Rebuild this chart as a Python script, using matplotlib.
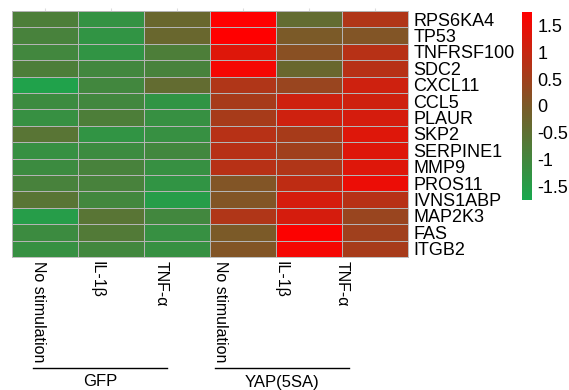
import numpy as np
import matplotlib
matplotlib.use("Agg")
import matplotlib.pyplot as plt
from matplotlib.colors import LinearSegmentedColormap

plt.rcParams['font.family'] = ['Liberation Sans', 'DejaVu Sans']

genes = ["RPS6KA4", "TP53", "TNFRSF100", "SDC2", "CXCL11", "CCL5", "PLAUR",
         "SKP2", "SERPINE1", "MMP9", "PROS11", "IVNS1ABP", "MAP2K3", "FAS", "ITGB2"]
conditions = ["No stimulation", "IL-1\u03b2", "TNF-\u03b1",
              "No stimulation", "IL-1\u03b2", "TNF-\u03b1"]
groups = ["GFP", "YAP(5SA)"]

# z-scores, one list per condition column (rows in gene order)
gfp_none = [-0.8, -0.9, -1.0, -0.8, -1.6, -1.1, -1.2, -0.6, -1.2, -1.1, -0.9, -0.6, -1.5, -1.1, -1.2]
gfp_il1b = [-1.25, -1.3, -1.3, -1.0, -1.0, -1.0, -0.8, -1.3, -1.1, -0.9, -0.9, -1.0, -0.6, -0.7, -1.0]
gfp_tnfa = [-0.3, -0.3, -0.8, -0.9, -0.4, -1.3, -1.2, -1.2, -1.0, -1.2, -1.3, -1.5, -1.0, -1.2, -1.2]
yap_none = [1.75, 1.75, 1.3, 1.6, 0.7, 0.6, 0.6, 0.8, 0.8, 0.8, 0.1, 0.1, 0.7, 0.0, 0.1]
yap_il1b = [-0.4, 0.0, 0.2, -0.3, 0.4, 1.1, 1.1, 0.6, 0.5, 0.7, 0.9, 1.2, 1.2, 1.7, 1.6]
yap_tnfa = [0.7, 0.1, 0.8, 0.8, 1.1, 1.1, 1.2, 1.3, 1.3, 1.3, 1.5, 0.8, 0.4, 0.5, 0.6]

cbar_ticks = [1.5, 1, 0.5, 0, -0.5, -1, -1.5]

data = np.array([gfp_none, gfp_il1b, gfp_tnfa, yap_none, yap_il1b, yap_tnfa]).T

cmap = LinearSegmentedColormap.from_list(
    "gbr", [(0.0, "#18a84e"), (0.5, "#7a5a28"), (1.0, "#ff0000")])

fig = plt.figure(figsize=(5.69, 3.90), dpi=100)
ax = fig.add_axes([12 / 569, 1 - 257 / 390, 396 / 569, 246 / 390])
mesh = ax.pcolormesh(data, cmap=cmap, vmin=-1.75, vmax=1.75,
                     edgecolors="#b4b4b4", linewidth=0.6)
ax.set_xlim(0, data.shape[1])
ax.set_ylim(data.shape[0], 0)
for s in ax.spines.values():
    s.set_color("#b4b4b4")
    s.set_linewidth(0.6)
ax.set_xticks(np.arange(data.shape[1]) + 0.5)
ax.xaxis.tick_top()
ax.tick_params(axis="x", length=2, color="#dddddd", labeltop=False)
ax.set_yticks(np.arange(len(genes)) + 0.5)
ax.set_yticklabels(genes, fontsize=13)
ax.yaxis.tick_right()
ax.tick_params(axis="y", length=0, pad=4)

# column labels (rotated, reading downward)
label_x = [38, 97, 161, 221, 281, 342]
for px, txt in zip(label_x, conditions):
    fig.text(px / 569, 1 - 261 / 390, txt, rotation=-90, ha="center", va="top",
             fontsize=11.5)

# group brackets
for (x0, x1), name in zip([(33, 167), (215, 349)], groups):
    fig.add_artist(plt.Line2D([x0 / 569, x1 / 569], [1 - 368 / 390] * 2,
                              color="black", linewidth=1))
    fig.text((x0 + x1) / 2 / 569, 1 - 382 / 390, name, ha="center", va="center",
             fontsize=12)

# colorbar
cax = fig.add_axes([522 / 569, 1 - 200 / 390, 10 / 569, 188 / 390])
cb = fig.colorbar(mesh, cax=cax, ticks=cbar_ticks)
cb.outline.set_visible(False)
cb.ax.tick_params(length=0, labelsize=13, pad=4)
cb.ax.set_yticklabels([f"{t:g}" for t in cbar_ticks])

fig.savefig("out.png", dpi=100)
